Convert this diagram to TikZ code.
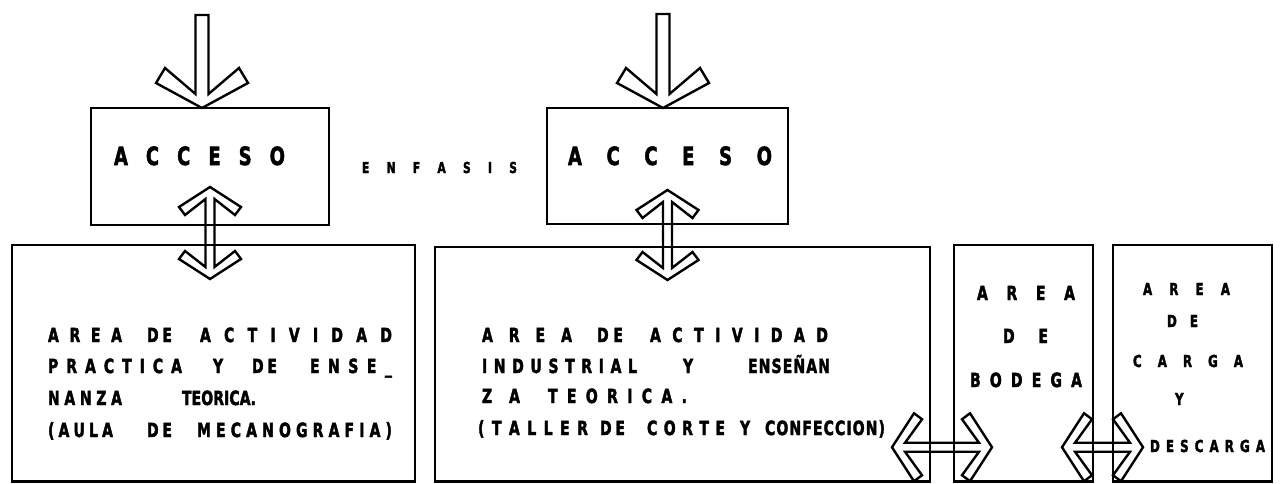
\documentclass[tikz,border=0pt]{standalone}
\usepackage{fontspec}
\usepackage{graphicx}
\usetikzlibrary{calc}
\newfontfamily\lett{DejaVu Sans}[BoldFeatures={FakeBold=2.5}]
\newcommand\xsc{0.72}
\newcommand\wordbox[2]{\scalebox{\xsc}[1]{\makebox[\dimexpr #1pt*100/72\relax][s]{#2}}}
\newcommand\onebox[2]{\makebox[#1pt][l]{\scalebox{\xsc}[1]{#2}}}
\newcommand\gp{\hspace{0pt plus 1fil}}
\newcommand\gap[1]{\hspace*{#1pt}}
\begin{document}
\begin{tikzpicture}[x=1pt,y=-1pt,
 box/.style={draw, line width=2.6pt, inner sep=0pt, outer sep=0pt},
 arrowline/.style={draw, line width=2.4pt, line join=miter},
 txt/.style={inner sep=0pt, outer sep=0pt, anchor=base west, font=\lett\bfseries\fontsize{19.5}{20}\selectfont},
 bigtxt/.style={txt, font=\lett\bfseries\fontsize{25}{26}\selectfont},
 smalltxt/.style={txt, font=\lett\bfseries\fontsize{16.5}{17}\selectfont},
 enftxt/.style={txt, font=\lett\bfseries\fontsize{15}{16}\selectfont},
 pics/bigarrow/.style={code={\draw[arrowline] (0,0) -- (-25,46) -- (-40,37) -- (-14,6.5) -- (-#1,6.5) -- (-#1,-6.5) -- (-14,-6.5) -- (-40,-37) -- (-25,-46) -- cycle;}},
 pics/dblarrow/.style={code={\draw[arrowline] (0,0) -- (-20,31) -- (-28,25) -- (-12,4.5) -- ({12-#1},4.5) -- ({28-#1},25) -- ({20-#1},31) -- (-#1,0) -- ({20-#1},-31) -- ({28-#1},-25) -- ({12-#1},-4.5) -- (-12,-4.5) -- (-28,-25) -- (-20,-31) -- cycle;}},
 pics/hdblarrow/.style={code={\draw[arrowline] (0,0) -- (-22,34) -- (-30,28) -- (-13,4.5) -- ({13-#1},4.5) -- ({30-#1},28) -- ({22-#1},34) -- (-#1,0) -- ({22-#1},-34) -- ({30-#1},-28) -- ({13-#1},-4.5) -- (-13,-4.5) -- (-30,-28) -- (-22,-34) -- cycle;}}
]
\useasboundingbox[fill=white] (0,0) rectangle (1281,484);

% boxes
\node[box, minimum width=238pt, minimum height=117pt] (acc1) at (210,166.5) {};
\node[box, minimum width=241pt, minimum height=116pt] (acc2) at (667.5,166) {};
\node[box, minimum width=403pt, minimum height=236.5pt] (area1) at (213.5,363.25) {};
\node[box, minimum width=495pt, minimum height=234.5pt] (area2) at (682.5,364.25) {};
\node[box, minimum width=139pt, minimum height=236.5pt] (bodega) at (1023.5,363.25) {};
\node[box, minimum width=159pt, minimum height=236.5pt] (carga) at (1192.5,363.25) {};

% arrows
\coordinate (in1) at ($(acc1.north)+(-8,0)$);
\coordinate (in2) at ($(acc2.north)+(-4.5,0)$);
\coordinate (v1) at ($(acc1.south)+(0,54)$);
\coordinate (v2) at ($(acc2.south)+(0,56)$);
\coordinate (h1) at ($(bodega.west)+(38,84)$);
\coordinate (h2) at ($(carga.west)+(30,84)$);
\pic[rotate=-90] at (in1) {bigarrow=93};
\pic[rotate=-90] at (in2) {bigarrow=94};
\pic[rotate=-90] at (v1) {dblarrow=92};
\pic[rotate=-90] at (v2) {dblarrow=90};
\pic at (h1) {hdblarrow=100};
\pic at (h2) {hdblarrow=81};

% texts
\node[bigtxt] (ta1) at (114,165) {\wordbox{171}{A\gp C\gp C\gp E\gp S\gp O}};
\node[bigtxt] (ta2) at (568,165) {\wordbox{204}{A\gp C\gp C\gp E\gp S\gp O}};
\node[enftxt] (te) at (362,173) {\wordbox{155}{E\gp N\gp F\gp A\gp S\gp I\gp S}};

\node[txt] (l1) at (48,342) {\wordbox{74}{A\gp R\gp E\gp A}\gap{25}\wordbox{25}{D\gp E}\gap{28}\wordbox{192}{A\gp C\gp T\gp I\gp V\gp I\gp D\gp A\gp D}};
\node[txt] (l2) at (48,373) {\wordbox{134}{P\gp R\gp A\gp C\gp T\gp I\gp C\gp A}\gap{31}\onebox{12}{Y}\gap{27}\wordbox{25}{D\gp E}\gap{33}\wordbox{82}{E\gp N\gp S\gp E\gp\_}};
\node[txt] (l3) at (48,405) {\wordbox{74}{N\gp A\gp N\gp Z\gp A}\gap{60}\wordbox{74}{T\gp E\gp O\gp R\gp I\gp C\gp A\gp .}};
\node[txt] (l4) at (48,437) {\wordbox{65}{(\gp A\gp U\gp L\gp A}\gap{34}\wordbox{25}{D\gp E}\gap{25}\wordbox{195}{M\gp E\gp C\gp A\gp N\gp O\gp G\gp R\gp A\gp F\gp I\gp A\gp )}};

\node[txt] (m1) at (482,342) {\wordbox{90}{A\gp R\gp E\gp A}\gap{25}\wordbox{26}{D\gp E}\gap{27}\wordbox{178}{A\gp C\gp T\gp I\gp V\gp I\gp D\gp A\gp D}};
\node[txt] (m2) at (482,373) {\wordbox{155}{I\gp N\gp D\gp U\gp S\gp T\gp R\gp I\gp A\gp L}\gap{46}\onebox{12}{Y}\gap{53}\wordbox{82}{E\gp N\gp S\gp E\gp Ñ\gp A\gp N}};
\node[txt] (m3) at (482,403) {\wordbox{38}{Z\gp A}\gap{28}\wordbox{139}{T\gp E\gp O\gp R\gp I\gp C\gp A\gp .}};
\node[txt] (m4) at (478,435) {\wordbox{110}{(\gp T\gp A\gp L\gp L\gp E\gp R}\gap{12}\wordbox{25}{D\gp E}\gap{22}\wordbox{78}{C\gp O\gp R\gp T\gp E}\gap{15}\onebox{12}{Y}\gap{13}\wordbox{120}{C\gp O\gp N\gp F\gp E\gp C\gp C\gp I\gp O\gp N\gp )}};

\node[txt] (b1) at (977,300) {\wordbox{98}{A\gp R\gp E\gp A}};
\node[txt] (b2) at (1003,343) {\wordbox{45}{D\gp E}};
\node[txt] (b3) at (970,387) {\wordbox{112}{B\gp O\gp D\gp E\gp G\gp A}};

\node[smalltxt] (c1) at (1143,295) {\wordbox{87}{A\gp R\gp E\gp A}};
\node[smalltxt] (c2) at (1167,327) {\wordbox{31}{D\gp E}};
\node[smalltxt] (c3) at (1133,367) {\wordbox{110}{C\gp A\gp R\gp G\gp A}};
\node[smalltxt] (c4) at (1175,405) {\scalebox{\xsc}[1]{Y}};
\node[smalltxt] (c5) at (1150,452) {\wordbox{115}{D\gp E\gp S\gp C\gp A\gp R\gp G\gp A}};
\end{tikzpicture}
\end{document}
